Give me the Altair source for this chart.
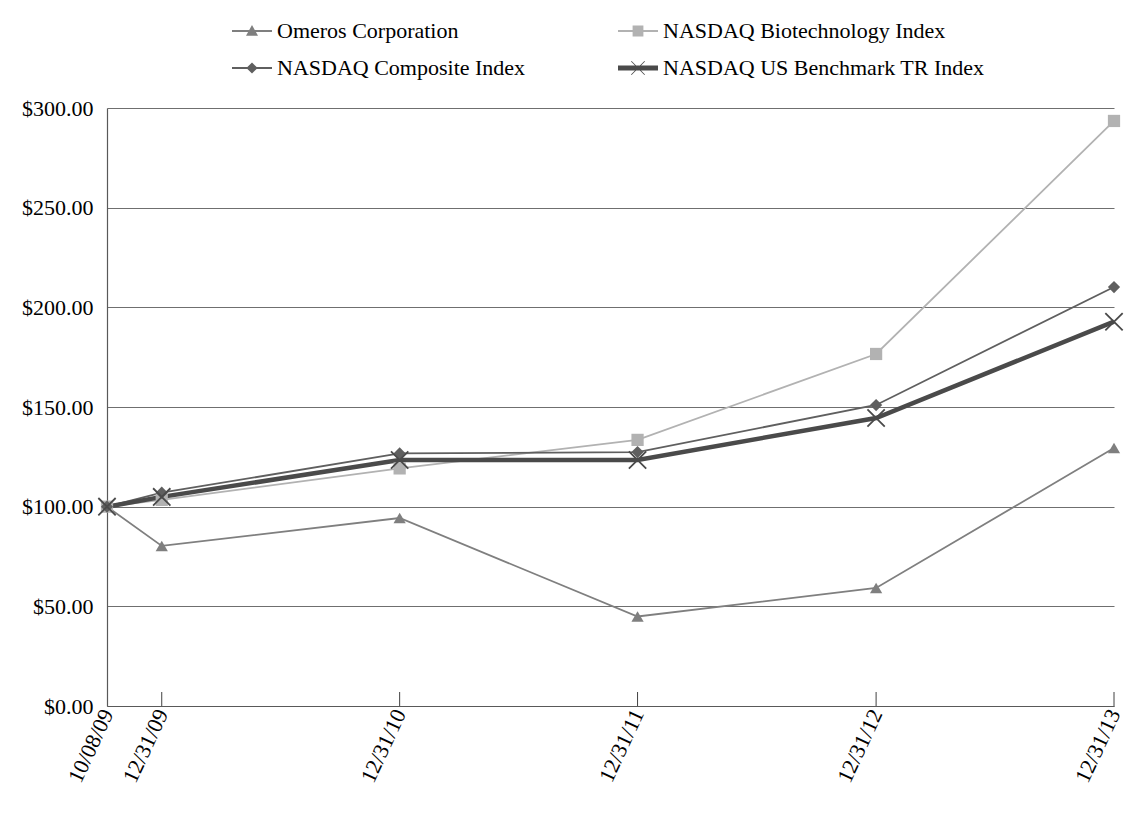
import altair as alt
import pandas as pd

dates = ["2009/10/08", "2009/12/31", "2010/12/31", "2011/12/31", "2012/12/31", "2013/12/31"]
series = [
    "Omeros Corporation",
    "NASDAQ Biotechnology Index",
    "NASDAQ Composite Index",
    "NASDAQ US Benchmark TR Index",
]
omeros = [100.0, 80.3, 94.3, 44.9, 59.2, 129.4]
biotech = [100.0, 103.4, 119.2, 133.5, 176.6, 293.5]
composite = [100.0, 107.0, 126.7, 127.4, 151.0, 210.2]
benchmark = [100.0, 104.9, 123.4, 123.4, 144.5, 192.8]
y_ticks = [0, 50, 100, 150, 200, 250, 300]

colors = ["#7f7f7f", "#b2b2b2", "#5f5f5f", "#4a4a4a"]
FONT = "Liberation Serif"

# marker shapes for the plot, and line+marker paths for the legend
x_path = "M-1,-1L1,1M-1,1L1,-1"
marker_shapes = ["triangle-up", "square", "diamond", x_path]


def line_rect(h):
    return f"M-1,-{h}H1V{h}H-1Z"


legend_shapes = [
    line_rect(0.05) + "M-0.3,0.24L0,-0.3L0.3,0.24Z",
    line_rect(0.05) + "M-0.27,-0.27H0.27V0.27H-0.27Z",
    line_rect(0.05) + "M0,-0.28L0.28,0L0,0.28L-0.28,0Z",
    line_rect(0.12)
    + "M-0.35,-0.32L-0.32,-0.35L0.35,0.32L0.32,0.35Z"
    + "M-0.35,0.32L0.32,-0.35L0.35,-0.32L-0.32,0.35Z",
]

rows = []
for name, vals in zip(series, [omeros, biotech, composite, benchmark]):
    for d, v in zip(dates, vals):
        rows.append({"date": d, "series": name, "value": v})
df = pd.DataFrame(rows)
tick_df = pd.DataFrame({"date": dates[1:]})

W, H = 1007, 598

date_values = [
    alt.DateTime(year=int(d[:4]), month=int(d[5:7]), date=int(d[8:])) for d in dates
]

x = alt.X(
    "date:T",
    title=None,
    scale=alt.Scale(domain=[date_values[0], date_values[-1]], nice=False),
    axis=alt.Axis(
        values=date_values,
        format="%m/%d/%y",
        labelAngle=295,
        labelPadding=4,
        ticks=False,
        grid=False,
        domainColor="#595959",
        domainWidth=1.2,
    ),
)
y = alt.Y(
    "value:Q",
    title=None,
    scale=alt.Scale(domain=[0, 300], nice=False),
    axis=alt.Axis(
        values=y_ticks,
        format="$,.2f",
        ticks=False,
        grid=True,
        gridColor="#6f6f6f",
        gridWidth=1,
        labelPadding=14,
        domainColor="#595959",
        domainWidth=1.2,
    ),
)

color_scale = alt.Scale(domain=series, range=colors)
color_enc = alt.Color("series:N", scale=color_scale, legend=None)

thin_lines = (
    alt.Chart(df)
    .transform_filter(alt.FieldOneOfPredicate(field="series", oneOf=series[:3]))
    .mark_line(strokeWidth=1.8)
    .encode(x=x, y=y, color=color_enc)
)

thick_line = (
    alt.Chart(df)
    .transform_filter(alt.FieldEqualPredicate(field="series", equal=series[3]))
    .mark_line(strokeWidth=4.5)
    .encode(x=x, y=y, color=color_enc)
)

filled_pts = (
    alt.Chart(df)
    .transform_filter(alt.FieldOneOfPredicate(field="series", oneOf=series[:3]))
    .mark_point(filled=True, size=150, opacity=1)
    .encode(
        x=x,
        y=y,
        color=color_enc,
        shape=alt.Shape(
            "series:N", scale=alt.Scale(domain=series, range=marker_shapes), legend=None
        ),
    )
)

cross_pts = (
    alt.Chart(df)
    .transform_filter(alt.FieldEqualPredicate(field="series", equal=series[3]))
    .mark_point(filled=False, shape=x_path, size=300, strokeWidth=1.8, opacity=1)
    .encode(x=x, y=y, color=color_enc)
)

ticks = alt.Chart(tick_df).mark_rule(color="#404040", strokeWidth=1).encode(
    x=x, y=alt.value(H), y2=alt.value(H - 14)
)

legend = alt.Legend(
    title=None,
    orient="none",
    direction="horizontal",
    legendX=125,
    legendY=-97,
    columns=2,
    columnPadding=92,
    rowPadding=6,
    padding=0,
    symbolSize=1600,
    symbolStrokeWidth=0,
    symbolOpacity=1,
    labelFont=FONT,
    labelFontSize=22,
    labelColor="#000000",
    labelOffset=5,
    labelLimit=0,
)

legend_layer = (
    alt.Chart(df)
    .transform_filter("false")
    .mark_point(filled=True, opacity=1)
    .encode(
        x=x,
        y=y,
        color=alt.Color("series:N", scale=color_scale, legend=legend),
        shape=alt.Shape(
            "series:N", scale=alt.Scale(domain=series, range=legend_shapes), legend=legend
        ),
    )
)

chart = (
    alt.layer(thin_lines, thick_line, filled_pts, cross_pts, ticks, legend_layer)
    .resolve_scale(color="independent", shape="independent")
    .properties(
        width=W,
        height=H,
        autosize=alt.AutoSizeParams(type="none"),
        padding={"left": 99, "top": 100, "right": 17, "bottom": 111},
        background="#ffffff",
    )
    .configure_view(stroke=None)
    .configure_axis(
        labelFont=FONT,
        labelFontSize=22,
        labelColor="#000000",
    )
)

chart.save("out.html", embed_options={"renderer": "svg", "actions": False})
